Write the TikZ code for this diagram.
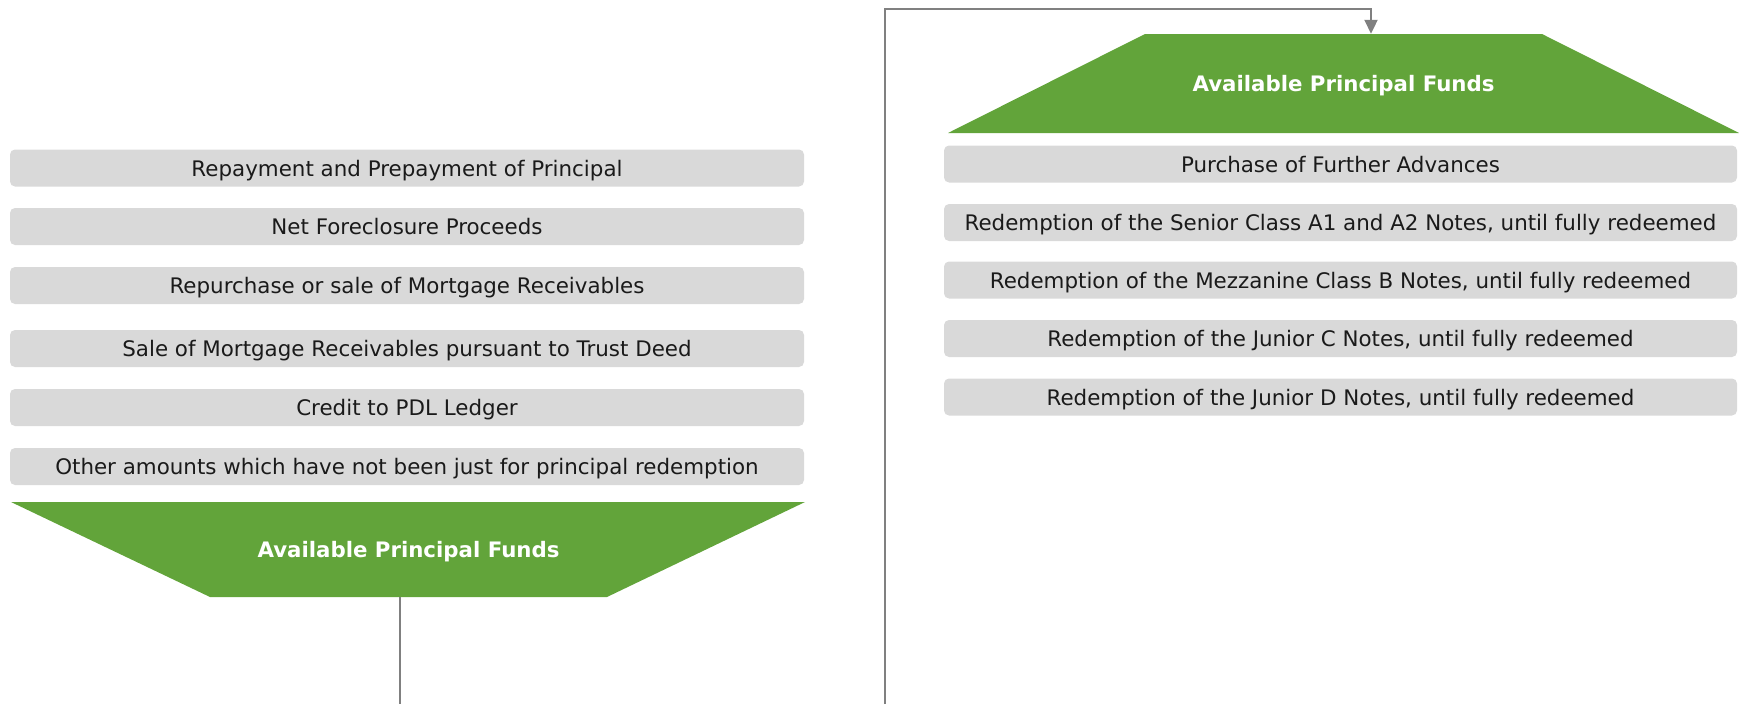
\documentclass[tikz,border=0pt]{standalone}
\usepackage{fontspec}
\setmainfont{DejaVu Sans}
\usetikzlibrary{arrows.meta}
\definecolor{boxgray}{HTML}{D9D9D9}
\definecolor{fundgreen}{HTML}{62A43A}
\definecolor{linegray}{HTML}{808080}
\definecolor{txt}{HTML}{1A1A1A}
\begin{document}
\begin{tikzpicture}[x=1pt,y=-1pt,
  gbox/.style={fill=boxgray, rounded corners=5pt, inner sep=0pt, text=txt,
    font=\fontsize{21.4}{25}\selectfont, minimum height=37pt, text depth=0pt},
  lbox/.style={gbox, minimum width=794pt},
  rbox/.style={gbox, minimum width=793pt},
  fundlabel/.style={inner sep=0pt, text=white, font=\bfseries\fontsize{21.3}{25}\selectfont},
  conn/.style={draw=linegray, line width=2pt},
]
\useasboundingbox (0,0) rectangle (1739,704);
% left column
\node[lbox] (l1) at (407,168) {Repayment and Prepayment of Principal};
\node[lbox] (l2) at (407,226.5) {Net Foreclosure Proceeds};
\node[lbox] (l3) at (407,285.5) {Repurchase or sale of Mortgage Receivables};
\node[lbox] (l4) at (407,348.5) {Sale of Mortgage Receivables pursuant to Trust Deed};
\node[lbox] (l5) at (407,407.5) {Credit to PDL Ledger};
\node[lbox] (l6) at (407,466.5) {Other amounts which have not been just for principal redemption};
\fill[fundgreen] (11,502) -- (805,502) -- (607,597) -- (210,597) -- cycle;
\node[fundlabel, minimum width=397pt, minimum height=95pt] (lf) at (408.5,549.5) {};
\node[fundlabel] (lft) at (408.5,552) {Available Principal Funds};
% right column
\fill[fundgreen] (1145,34) -- (1542,34) -- (1739,133) -- (948,133) -- cycle;
\node[fundlabel, minimum width=397pt, minimum height=99pt] (rf) at (1343.5,83.5) {};
\node[fundlabel] (rft) at (1343.5,86) {Available Principal Funds};
\node[rbox] (r1) at (1340.5,164) {Purchase of Further Advances};
\node[rbox] (r2) at (1340.5,222.5) {Redemption of the Senior Class A1 and A2 Notes, until fully redeemed};
\node[rbox] (r3) at (1340.5,280) {Redemption of the Mezzanine Class B Notes, until fully redeemed};
\node[rbox] (r4) at (1340.5,338.5) {Redemption of the Junior C Notes, until fully redeemed};
\node[rbox] (r5) at (1340.5,397) {Redemption of the Junior D Notes, until fully redeemed};
% connectors
\coordinate (lend) at (400,704);
\coordinate (rstart) at (885,704);
\coordinate (ttop) at (1371,9);
\draw[conn] (lf.south -| lend) -- (lend);
\draw[conn, -{Triangle[length=14pt,width=13pt]}] (rstart) -- (rstart |- ttop) -- (ttop) -- (ttop |- rf.north);
\end{tikzpicture}
\end{document}
